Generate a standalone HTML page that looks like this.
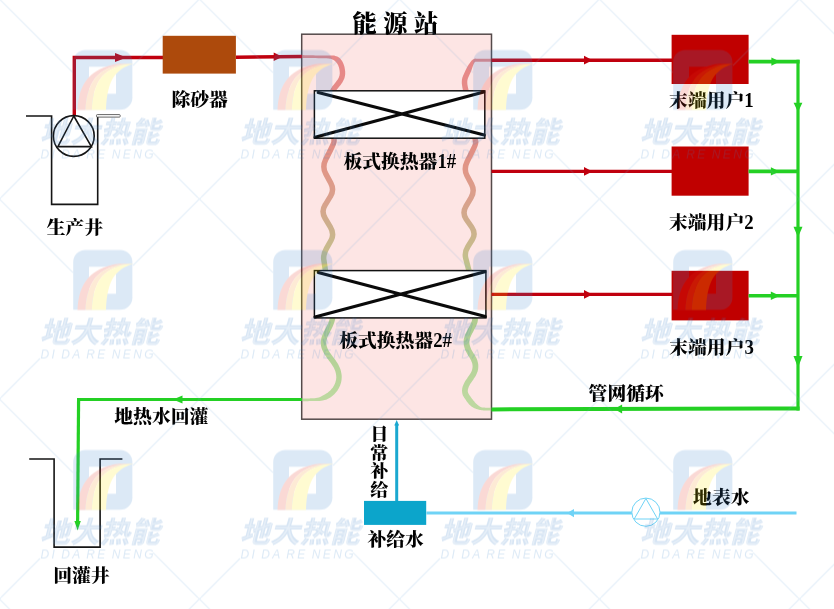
<!DOCTYPE html>
<html lang="zh-CN"><head><meta charset="utf-8"><title>能源站</title>
<style>html,body{margin:0;padding:0;background:#fff;}body{width:834px;height:609px;overflow:hidden;}svg{display:block;}</style>
</head><body>
<svg width="834" height="609" viewBox="0 0 834 609">
<defs>
<linearGradient id="wg" gradientUnits="userSpaceOnUse" x1="0" y1="57" x2="0" y2="410">
<stop offset="0" stop-color="#da4b4c"/>
<stop offset="0.15" stop-color="#d6504a"/>
<stop offset="0.25" stop-color="#d05545"/>
<stop offset="0.32" stop-color="#ce634a"/>
<stop offset="0.405" stop-color="#c37353"/>
<stop offset="0.476" stop-color="#ad8c53"/>
<stop offset="0.547" stop-color="#a5a053"/>
<stop offset="0.598" stop-color="#94ae53"/>
<stop offset="0.773" stop-color="#7bbe5b"/>
<stop offset="0.97" stop-color="#94d174"/>
</linearGradient>
<pattern id="wm" x="-1" y="-2.5" width="200" height="200" patternUnits="userSpaceOnUse">
<g stroke="#6ea9dd" stroke-width="1.2" fill="none">
<path d="M0,1.2L74,75.2M198.8,0L200,1.2M200,2L134,68M0,2L2,0M154,155.2L198.8,200M41,161L2,200"/>
</g>
<path fill="#3f88d0" fill-rule="evenodd" d="M86.2,52.4H121.4A12,12 0 0 1 133.4,64.4V100.2A12,12 0 0 1 121.4,112.2H74.2V64.4A12,12 0 0 1 86.2,52.4ZM90,69.3V96.2H117V69.3Z"/>
<path fill="#e62a14" d="M78.5,112.6C79.0,98.0 83.0,88.0 88.0,82.0C93.0,76.0 100.0,70.5 115.6,66.8C122.0,65.6 128.0,66.0 134.5,66.3L134.5,66.3C129.1,66.3 124.0,66.3 118.5,67.6C105.6,71.2 99.2,76.4 94.7,82.7C90.0,89.7 86.9,99.7 86.5,112.6Z"/>
<path fill="#f28a18" d="M86.5,112.6C86.9,99.7 90.0,89.7 94.7,82.7C99.2,76.4 105.6,71.2 118.5,67.6C124.0,66.3 129.1,66.3 134.5,66.3L134.5,66.3C130.0,66.5 125.5,66.8 120.8,68.2C110.0,71.8 104.0,76.8 100.0,83.2C95.5,91.0 93.2,101.0 92.8,112.6Z"/>
<path fill="#ffe800" d="M92.8,112.6C93.2,101.0 95.5,91.0 100.0,83.2C104.0,76.8 110.0,71.8 120.8,68.2C125.5,66.8 130.0,66.5 134.5,66.3L134.5,66.3C132.0,67.0 129.0,68.0 126.0,69.5C120.0,73.0 115.0,77.5 112.0,84.5C108.0,94.0 107.3,104.0 107.0,112.6Z"/>
<g fill="#2471c2" font-family="'Liberation Sans','Noto Sans CJK SC',sans-serif" font-style="italic">
<text x="100.8" y="145" font-size="29" font-weight="900" text-anchor="middle" textLength="120" lengthAdjust="spacingAndGlyphs">地大热能</text>
<text x="100.8" y="145" font-size="29" font-weight="300" text-anchor="middle" textLength="120" lengthAdjust="spacingAndGlyphs" fill="#fff" opacity="0.38">地大热能</text>
<text x="98" y="161" font-size="12" text-anchor="middle" textLength="113" fill="#3a85cc" word-spacing="-1.5">DI DA RE NENG</text>
</g>
</pattern>
</defs>
<rect width="834" height="609" fill="#fff"/>
<rect x="301.7" y="34.2" width="189.8" height="385" fill="#fde5e4" stroke="#544a4a" stroke-width="1.5"/>
<g stroke="none" fill="url(#wg)" opacity="0.6"><path d="M302.3,57.9L304.9,57.9L307.6,58.0L310.3,58.0L313.0,58.1L315.6,58.1L318.3,58.2L321.0,58.2L323.6,58.3L326.3,58.3L329.0,58.5L329.9,58.7L330.7,58.8L331.5,59.1L332.3,59.4L333.0,59.7L333.6,60.0L334.2,60.4L334.7,60.8L335.2,61.3L335.6,61.7L336.1,62.2L336.5,62.7L336.9,63.2L337.3,63.8L337.7,64.4L338.1,65.1L338.4,65.9L338.7,66.7L339.0,67.6L339.2,68.6L339.4,69.6L339.6,70.7L339.7,71.9L339.8,73.0L339.7,73.9L339.6,74.7L339.5,75.5L339.2,76.3L339.0,77.0L338.7,77.8L338.3,78.5L337.9,79.2L337.4,79.9L336.9,80.6L336.4,81.3L335.8,82.0L335.3,82.8L334.7,83.5L334.1,84.2L333.5,85.0L332.8,85.8L332.2,86.6L331.7,87.4L331.1,88.3L330.6,89.2L330.1,90.2L329.7,91.2L329.4,92.1L334.6,93.9L334.9,93.1L335.1,92.4L335.5,91.8L335.8,91.1L336.3,90.5L336.7,89.8L337.2,89.1L337.8,88.4L338.3,87.7L338.9,87.0L339.5,86.2L340.2,85.5L340.8,84.7L341.4,83.8L342.0,83.0L342.6,82.1L343.1,81.1L343.6,80.1L344.1,79.1L344.5,78.0L344.8,76.8L345.0,75.6L345.2,74.3L345.2,73.0L345.2,71.4L345.0,70.0L344.8,68.7L344.6,67.4L344.3,66.2L343.9,65.0L343.5,63.9L343.0,62.8L342.5,61.8L341.9,60.8L341.3,59.9L340.6,59.1L339.9,58.3L339.0,57.6L338.1,57.1L337.2,56.6L336.2,56.2L335.3,55.9L334.2,55.6L333.2,55.5L332.2,55.4L331.1,55.4L330.1,55.4L329.0,55.5L326.4,55.6L323.7,55.5L321.0,55.5L318.3,55.4L315.7,55.4L313.0,55.3L310.3,55.3L307.7,55.2L305.0,55.2L302.3,55.1Z"/><path d="M302.3,401.3L303.7,401.3L305.1,401.2L306.4,401.2L307.8,401.2L309.2,401.1L310.6,401.1L311.9,401.1L313.3,401.1L314.7,401.0L316.1,401.1L317.8,401.0L319.5,400.9L321.2,400.7L322.9,400.5L324.5,400.1L326.1,399.7L327.6,399.1L329.0,398.3L330.4,397.4L331.7,396.5L332.9,395.5L334.1,394.4L335.2,393.3L336.2,392.1L337.2,390.9L338.0,389.5L338.8,388.2L339.5,386.8L340.1,385.4L340.6,383.9L341.1,382.4L341.4,380.8L341.6,379.2L341.7,377.5L341.7,375.4L341.4,373.4L341.0,371.4L340.5,369.6L339.9,367.9L339.1,366.2L338.3,364.6L337.4,363.1L336.5,361.7L335.6,360.3L334.6,359.0L333.6,357.7L332.7,356.4L331.8,355.2L330.9,353.9L330.0,352.7L329.2,351.5L328.5,350.4L327.9,349.2L327.4,348.0L326.9,346.7L326.6,345.5L326.4,344.2L326.2,342.9L326.3,342.1L326.4,341.2L326.5,340.3L326.7,339.4L327.0,338.5L327.3,337.6L327.6,336.7L328.0,335.8L328.4,334.9L328.9,334.0L329.4,333.0L329.9,332.0L330.4,331.0L331.0,330.0L331.5,328.9L332.1,327.8L332.6,326.7L333.1,325.5L333.6,324.3L334.1,323.0L334.5,321.7L334.9,320.3L335.2,318.9L335.5,317.5L330.1,316.5L329.9,317.8L329.6,319.0L329.3,320.1L328.9,321.2L328.5,322.3L328.1,323.4L327.6,324.4L327.1,325.4L326.6,326.5L326.1,327.5L325.6,328.5L325.0,329.5L324.5,330.5L324.0,331.5L323.5,332.5L323.0,333.6L322.5,334.7L322.1,335.7L321.7,336.9L321.4,338.0L321.1,339.2L320.9,340.4L320.8,341.7L320.8,343.1L320.9,344.9L321.2,346.7L321.7,348.4L322.3,350.0L323.0,351.6L323.7,353.0L324.6,354.5L325.5,355.8L326.4,357.1L327.3,358.4L328.3,359.7L329.2,361.0L330.2,362.2L331.1,363.5L331.9,364.7L332.7,366.0L333.5,367.3L334.2,368.6L334.8,369.9L335.3,371.3L335.7,372.8L336.0,374.3L336.2,375.8L336.3,377.5L336.2,378.6L336.0,379.9L335.7,381.1L335.4,382.2L335.0,383.4L334.5,384.5L334.0,385.6L333.4,386.6L332.7,387.7L331.9,388.6L331.1,389.6L330.3,390.5L329.3,391.3L328.4,392.1L327.3,392.9L326.2,393.6L325.1,394.2L323.9,394.9L322.8,395.6L321.5,396.3L320.2,396.9L318.8,397.4L317.4,397.8L315.9,398.1L314.6,398.2L313.2,398.3L311.9,398.3L310.5,398.3L309.1,398.4L307.7,398.4L306.4,398.4L305.0,398.4L303.6,398.5L302.3,398.5Z"/><path d="M491.0,58.7L489.4,58.7L487.8,58.7L486.2,58.7L484.6,58.7L483.0,58.7L481.4,58.7L479.8,58.7L478.2,58.7L476.6,58.7L474.9,58.6L474.1,58.9L473.8,59.0L473.4,59.2L473.1,59.4L472.8,59.6L472.6,59.8L472.3,60.0L472.0,60.3L471.7,60.5L471.5,60.8L471.2,61.1L471.0,61.4L470.7,61.7L470.5,62.0L470.3,62.3L470.0,62.7L469.8,63.0L469.5,63.4L469.2,63.8L469.0,64.2L468.7,64.6L468.4,65.0L468.1,65.5L467.8,66.0L467.2,67.0L466.7,67.9L466.2,68.9L465.7,69.9L465.2,70.9L464.8,71.9L464.3,72.9L463.9,73.9L463.4,74.9L463.0,75.9L462.7,76.7L462.4,77.5L462.2,78.2L462.1,79.0L461.9,79.8L461.9,80.5L461.8,81.3L461.8,82.0L461.8,82.7L461.8,83.5L461.9,84.2L462.0,84.9L462.1,85.7L462.2,86.4L462.3,87.1L462.4,87.8L462.6,88.6L462.7,89.3L462.9,90.0L463.1,90.7L463.3,91.5L463.5,92.2L463.6,92.9L463.8,93.7L469.2,92.3L469.0,91.6L468.8,90.8L468.6,90.1L468.4,89.4L468.3,88.7L468.1,88.1L468.0,87.4L467.8,86.7L467.7,86.1L467.6,85.5L467.5,84.9L467.4,84.3L467.4,83.7L467.3,83.2L467.3,82.6L467.3,82.1L467.3,81.5L467.3,81.0L467.4,80.5L467.5,80.0L467.6,79.5L467.7,79.0L467.9,78.5L468.0,78.1L468.5,77.1L468.9,76.1L469.4,75.1L469.8,74.1L470.3,73.1L470.7,72.1L471.1,71.1L471.5,70.1L471.9,69.0L472.2,68.0L472.4,67.6L472.5,67.1L472.7,66.6L472.9,66.2L473.0,65.7L473.2,65.3L473.3,65.0L473.5,64.6L473.6,64.3L473.7,64.0L473.9,63.7L474.0,63.4L474.1,63.2L474.3,63.0L474.4,62.8L474.5,62.6L474.6,62.4L474.8,62.3L474.9,62.1L475.0,62.0L475.1,61.9L475.3,61.8L475.4,61.7L475.1,61.8L476.6,61.7L478.2,61.7L479.8,61.7L481.4,61.7L483.0,61.7L484.6,61.7L486.2,61.7L487.8,61.7L489.4,61.7L491.0,61.7Z"/><path d="M491.0,407.8L489.9,407.8L488.8,407.7L487.7,407.7L486.6,407.7L485.5,407.7L484.5,407.6L483.6,407.6L482.9,407.5L482.1,407.4L481.4,407.2L480.7,406.9L480.1,406.7L479.5,406.3L478.9,406.0L478.4,405.6L477.9,405.1L477.6,405.0L477.4,404.8L477.2,404.5L476.9,404.3L476.7,404.1L476.5,404.0L476.0,403.5L475.5,403.0L475.0,402.4L474.5,401.8L474.0,401.1L473.3,400.4L472.7,399.6L472.0,398.7L471.3,397.8L470.6,396.8L470.3,396.3L470.0,395.8L469.6,395.4L469.3,394.9L469.0,394.4L468.8,394.1L468.3,393.2L468.0,392.4L467.8,391.6L467.8,390.7L467.9,389.6L468.2,388.4L468.7,387.1L469.3,385.7L470.2,384.1L471.3,382.4L471.8,381.7L472.3,380.9L472.9,380.2L473.4,379.4L473.9,378.6L474.5,377.8L475.8,375.8L476.8,373.6L477.6,371.5L478.1,369.2L478.3,367.0L478.3,364.7L477.9,362.5L477.3,360.3L476.4,358.1L475.2,356.0L474.7,355.1L474.2,354.3L473.7,353.5L473.2,352.7L472.8,351.9L472.3,351.2L471.3,349.4L470.6,347.7L470.0,346.1L469.6,344.6L469.4,343.1L469.4,341.6L469.5,340.2L469.8,338.8L470.3,337.4L471.0,335.9L471.3,335.2L471.7,334.5L472.1,333.8L472.4,333.1L472.8,332.4L473.2,331.7L474.0,330.1L474.8,328.6L475.5,327.2L476.1,325.9L476.6,324.7L477.0,323.7L477.4,322.7L477.6,321.8L477.8,320.9L477.9,320.1L477.9,319.5L477.9,319.0L477.9,318.5L477.9,318.0L477.9,317.5L477.9,317.0L472.1,317.0L472.1,317.5L472.1,318.0L472.1,318.5L472.1,319.0L472.1,319.5L472.1,319.9L472.1,320.0L472.0,320.3L471.9,320.9L471.6,321.6L471.2,322.5L470.8,323.5L470.2,324.7L469.6,326.0L468.9,327.5L468.0,329.1L467.7,329.8L467.3,330.5L466.9,331.2L466.6,331.9L466.2,332.6L465.8,333.3L464.9,335.2L464.3,337.2L463.8,339.3L463.6,341.4L463.7,343.5L463.9,345.6L464.5,347.8L465.2,349.9L466.2,352.0L467.3,354.0L467.8,354.9L468.3,355.7L468.8,356.5L469.3,357.3L469.7,358.1L470.2,358.8L471.1,360.6L471.8,362.2L472.3,363.8L472.5,365.3L472.6,366.8L472.4,368.3L472.1,369.8L471.5,371.4L470.7,372.9L469.7,374.6L469.2,375.3L468.7,376.1L468.1,376.8L467.6,377.6L467.1,378.4L466.5,379.2L465.2,381.1L464.2,383.0L463.3,384.9L462.6,386.8L462.2,388.6L462.0,390.4L462.1,392.2L462.4,394.0L463.0,395.7L463.8,397.1L464.2,397.7L464.5,398.2L464.9,398.6L465.2,399.1L465.5,399.6L465.8,400.0L466.6,401.2L467.4,402.2L468.2,403.2L468.9,404.2L469.7,405.0L470.6,405.8L471.4,406.5L472.3,407.1L473.1,407.6L473.9,408.0L474.2,408.1L474.5,408.2L474.8,408.4L475.1,408.5L475.4,408.6L475.7,408.7L476.5,409.0L477.4,409.3L478.2,409.6L479.0,409.8L479.9,409.9L480.8,410.1L481.6,410.2L482.5,410.3L483.4,410.4L484.3,410.4L485.5,410.4L486.6,410.5L487.7,410.5L488.8,410.5L489.9,410.6L491.0,410.6Z"/><g fill="none" stroke="url(#wg)" stroke-width="5.5" stroke-linecap="butt" stroke-linejoin="round"><path d="M334.0,138.0L334.0,141.5Q334.0,143.0 330.4,150.2L325.6,159.8Q322.0,167.0 325.8,173.9L330.8,183.1Q334.5,190.0 330.4,196.4L325.1,205.1Q321.0,211.5 325.1,218.2L330.4,227.2Q334.5,234.0 331.1,240.3L326.4,248.7Q323.0,255.0 323.8,259.8L325.5,271.0"/><path d="M475.0,138.0L475.7,142.2Q476.0,144.0 472.2,151.5L467.2,161.5Q463.5,169.0 466.9,175.6L471.6,184.4Q475.0,191.0 471.1,197.6L465.9,206.4Q462.0,213.0 466.2,219.2L471.8,227.3Q476.0,233.5 472.5,239.2L467.8,246.8Q464.3,252.5 465.7,258.1L469.0,271.0"/></g></g>
<rect x="314.4" y="90.8" width="170.40000000000003" height="47.39999999999999" fill="#fff" stroke="#111" stroke-width="1.5"/>
<path d="M318.2,92.6 L484.2,135.0 M315,137.2 L483.8,92.0" stroke="#0a0a0a" stroke-width="3.1" stroke-linecap="round"/>
<rect x="314.4" y="270.6" width="171.5" height="47.299999999999955" fill="#fff" stroke="#111" stroke-width="1.5"/>
<path d="M318.2,272.40000000000003 L485.29999999999995,316.5 M315,316.9 L484.9,271.8" stroke="#0a0a0a" stroke-width="3.1" stroke-linecap="round"/>
<g fill="none" stroke="#c0000e" stroke-width="3.4">
<path d="M74.3,116 V57.5 H163"/>
<path d="M236,57.2 L302,56.5"/>
<path d="M491.5,60.2 H672"/>
<path d="M491.5,171.4 H672"/>
<path d="M491.5,294.4 H672"/>
</g>
<polygon points="126.5,57.5 115.0,53.0 115.0,62.0" fill="#c0000e"/>
<polygon points="282.5,56.8 273.7,52.5 273.7,61.099999999999994" fill="#c0000e"/>
<polygon points="592.5,60.2 584.0,55.800000000000004 584.0,64.60000000000001" fill="#c0000e"/>
<polygon points="592.5,171.4 584.0,167.0 584.0,175.8" fill="#c0000e"/>
<polygon points="592.5,294.4 584.0,290.0 584.0,298.79999999999995" fill="#c0000e"/>
<rect x="162.7" y="35.8" width="73.2" height="37.8" fill="#ad4a0c"/>
<rect x="671.6" y="34.8" width="77" height="49.2" fill="#c00000"/>
<rect x="671.6" y="146.5" width="77" height="49.19999999999999" fill="#c00000"/>
<rect x="671.6" y="270.8" width="77" height="49.599999999999966" fill="#c00000"/>
<g fill="none" stroke="#24d024" stroke-linecap="butt">
<path d="M798,59.7 V410.6" stroke-width="3.2"/>
<path d="M748.6,61.6 H799.6" stroke-width="3.8"/>
<path d="M748.6,171.4 H798" stroke-width="3.6"/>
<path d="M748.6,295.7 H798" stroke-width="3.6"/>
<path d="M799.6,408.5 L491.5,409.4" stroke-width="4"/>
<path d="M302,399.5 H77" stroke-width="2.9"/>
<path d="M78.6,398.05 L77.6,523" stroke-width="3.2"/>
</g>
<polygon points="779.8,61.6 771.4,57.4 771.4,65.8" fill="#24d024"/>
<polygon points="779.5,171.4 770.9,167.20000000000002 770.9,175.6" fill="#24d024"/>
<polygon points="779.8,295.7 770.8,291.5 770.8,299.9" fill="#24d024"/>
<polygon points="798,112 793.6,102.8 802.4,102.8" fill="#24d024"/>
<polygon points="798,237.2 793.5,226.79999999999998 802.5,226.79999999999998" fill="#24d024"/>
<polygon points="798,367.4 793.5,356.0 802.5,356.0" fill="#24d024"/>
<polygon points="614.3,409 622.0999999999999,404.5 622.0999999999999,413.5" fill="#24d024"/>
<polygon points="173,399.5 182.5,395.5 182.5,403.5" fill="#24d024"/>
<polygon points="77.6,530.4 74.39999999999999,520.9 80.8,520.9" fill="#24d024"/>
<g fill="none" stroke="#151515" stroke-width="1.6">
<path d="M26,116 H51.6 V204.4 H97.7 V117"/>
<circle cx="73.8" cy="136" r="20.4" fill="#fff"/>
<path d="M73.8,116 L57.9,146.6 H91.4 Z"/>
<path d="M29.2,459 H54.1 V547.1 H100.1 V459 H122.4"/>
</g>
<rect x="96.5" y="114.6" width="23.7" height="2.5" rx="0.8" fill="#fff" stroke="#555" stroke-width="0.9"/>
<path d="M396.7,501.5 V424" stroke="#1ba8d0" stroke-width="3" fill="none"/>
<polygon points="396.7,420 394.3,425.5 399.09999999999997,425.5" fill="#1ba8d0"/>
<path d="M426.5,513 H796.5" stroke="#6fd3f6" stroke-width="2.9" fill="none"/>
<polygon points="567,513.1 574,508.90000000000003 574,517.3000000000001" fill="#6fd3f6"/>
<rect x="364" y="500.9" width="62.2" height="24" fill="#0ca5cb"/>
<circle cx="645.9" cy="512.2" r="14.1" fill="#fff" stroke="#6fd3f6" stroke-width="1"/>
<path d="M645.9,498.5 L634.2,519 H657.6 Z" fill="none" stroke="#6fd3f6" stroke-width="1"/>
<g font-family="'Liberation Serif','Noto Serif CJK SC',serif" font-weight="900" fill="#000" opacity="0.999">
<text transform="translate(395.3,32) scale(1,0.985)" font-size="24.2" text-anchor="middle" word-spacing="0.6">能 源 站</text>
<text transform="translate(75,233.6) scale(1,0.95)" font-size="18.8" text-anchor="middle" >生产井</text>
<text transform="translate(199.7,106.4) scale(1,0.95)" font-size="18.8" text-anchor="middle" >除砂器</text>
<text transform="translate(343.40,167.5) scale(1,0.95)" font-size="18.8" text-anchor="start" >板式换热器</text><text transform="translate(437.40,167.5) scale(1,1.09)" font-size="18.8" text-anchor="start" >1#</text>
<text transform="translate(339.20,347.2) scale(1,0.95)" font-size="18.8" text-anchor="start" >板式换热器</text><text transform="translate(433.20,347.2) scale(1,1.09)" font-size="18.8" text-anchor="start" >2#</text>
<text transform="translate(669.10,107.1) scale(1,0.95)" font-size="18.8" text-anchor="start" >末端用户</text><text transform="translate(744.30,107.1) scale(1,1.09)" font-size="18.8" text-anchor="start" >1</text>
<text transform="translate(669.00,229.3) scale(1,0.95)" font-size="18.8" text-anchor="start" >末端用户</text><text transform="translate(744.20,229.3) scale(1,1.09)" font-size="18.8" text-anchor="start" >2</text>
<text transform="translate(669.20,354) scale(1,0.95)" font-size="18.8" text-anchor="start" >末端用户</text><text transform="translate(744.40,354) scale(1,1.09)" font-size="18.8" text-anchor="start" >3</text>
<text transform="translate(626.2,399.6) scale(1,0.95)" font-size="18.8" text-anchor="middle" >管网循环</text>
<text transform="translate(161.3,423.5) scale(1,0.95)" font-size="18.8" text-anchor="middle" >地热水回灌</text>
<text transform="translate(81.5,581.7) scale(1,0.95)" font-size="18.8" text-anchor="middle" >回灌井</text>
<text transform="translate(395.7,546.1) scale(1,0.95)" font-size="18.8" text-anchor="middle" >补给水</text>
<text transform="translate(721.3,503.7) scale(1,0.95)" font-size="18.8" text-anchor="middle" >地表水</text>
<text transform="translate(379.3,440.4) scale(1,0.95)" font-size="18" text-anchor="middle" >日</text>
<text transform="translate(379.3,458.9) scale(1,0.95)" font-size="18" text-anchor="middle" >常</text>
<text transform="translate(379.3,477.4) scale(1,0.95)" font-size="18" text-anchor="middle" >补</text>
<text transform="translate(379.3,495.9) scale(1,0.95)" font-size="18" text-anchor="middle" >给</text>
</g>
<rect width="834" height="609" fill="url(#wm)" opacity="0.18"/>
</svg>
</body></html>
